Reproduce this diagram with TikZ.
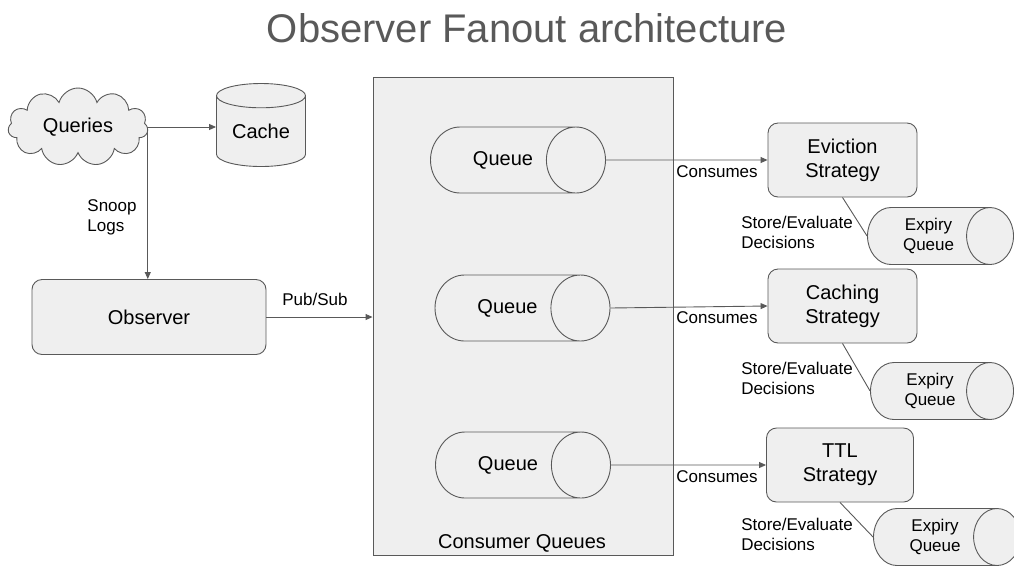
\documentclass[tikz,border=0pt]{standalone}
\usepackage{fontspec}
\setmainfont{Liberation Sans}
\usetikzlibrary{shapes.geometric,shapes.symbols,arrows.meta}
\definecolor{linegray}{HTML}{595959}
\definecolor{boxgray}{HTML}{EFEFEF}
\tikzset{
  big/.style={font=\fontsize{20}{24}\selectfont},
  small/.style={font=\fontsize{17}{20}\selectfont, align=left},
  box/.style={draw=linegray, fill=boxgray, line width=0.9pt, rounded corners=10pt,
    big, align=center, inner sep=0pt},
  tube/.style={cylinder, anchor=shape center, draw=linegray, fill=boxgray, line width=0.9pt,
    big, align=center, inner sep=0pt},
  queue/.style={tube, aspect=3.33, minimum height=175pt, minimum width=66pt},
  expiry/.style={tube, small, align=center, aspect=1.32, minimum width=57pt},
  link/.style={draw=linegray, line width=0.9pt}
}
\begin{document}
\begin{tikzpicture}[x=1pt, y=-1pt, >={Triangle[length=7pt,width=6pt]}]
  \useasboundingbox (0,0) rectangle (1014,566);

  \node[text=linegray, font=\fontsize{40}{48}\selectfont] (title) at (527,28) {Observer Fanout architecture};

  % left side
  \node[cloud, cloud puffs=11, aspect=1.8, draw=linegray, fill=boxgray, line width=0.9pt,
    big, minimum width=140pt, minimum height=78pt, inner sep=0pt] (queries) at (78,127) {Queries};
  \node[tube, shape border rotate=90, aspect=0.42, minimum width=89pt, minimum height=83pt] (cache) at (261,125) {Cache};
  \node[box, minimum width=234pt, minimum height=75pt] (observer) at (149,317) {Observer};

  % consumer queues
  \node[draw=linegray, fill=boxgray, line width=0.9pt, minimum width=300pt, minimum height=478pt] (consumer) at (523,316) {};
  \node[big] (consumerlabel) at (522,543) {Consumer Queues};
  \node[queue] (q1) at (518,160) {Queue};
  \node[queue] (q2) at (522.5,308) {Queue};
  \node[queue] (q3) at (523,465) {Queue};

  % strategies
  \node[box, minimum width=149pt, minimum height=74pt] (eviction) at (842.5,160) {Eviction\\Strategy};
  \node[box, minimum width=149pt, minimum height=74pt] (caching) at (842.5,306) {Caching\\Strategy};
  \node[box, minimum width=147pt, minimum height=74pt] (ttl) at (840,465) {TTL\\Strategy};
  \node[expiry, minimum height=146pt] (expiry1) at (940.5,236) {Expiry\\Queue};
  \node[expiry, minimum height=143pt] (expiry2) at (942,391) {Expiry\\Queue};
  \node[expiry, minimum height=147pt] (expiry3) at (947,537) {Expiry\\Queue};

  % labels
  \node[small] (snoop) at (112,217) {Snoop\\Logs};
  \node[small] (pubsub) at (315,299) {Pub/Sub};
  \node[small] (cons1) at (717,172) {Consumes};
  \node[small] (cons2) at (717,318) {Consumes};
  \node[small] (cons3) at (717,477) {Consumes};
  \node[small] (store1) at (797,232) {Store/Evaluate\\Decisions};
  \node[small] (store2) at (797,378) {Store/Evaluate\\Decisions};
  \node[small] (store3) at (797,534) {Store/Evaluate\\Decisions};

  \draw[link, ->] (queries.east) -- (queries.east -| cache.west);
  \draw[link, ->] (queries.east) -- (queries.east |- observer.north);
  \draw[link, ->] (observer.east) -- (observer.east -| consumer.west);
  \draw[link, ->] (q1.east) -- (eviction.west);
  \draw[link, ->] (q2.east) -- (caching.west);
  \draw[link, ->] (q3.east) -- (ttl.west);
  \draw[link] (eviction.south) -- (expiry1.west);
  \draw[link] (caching.south) -- (expiry2.west);
  \draw[link] (ttl.south) -- (expiry3.west);
\end{tikzpicture}
\end{document}
